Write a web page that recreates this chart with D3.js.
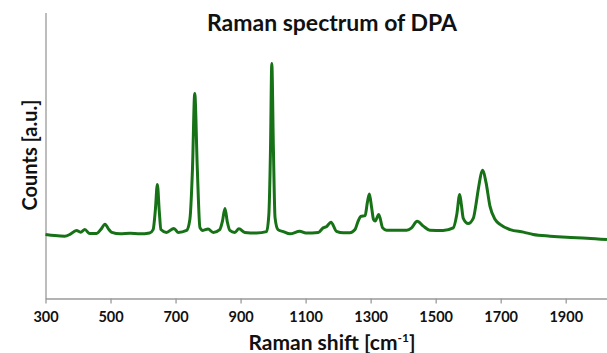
<!DOCTYPE html>
<html>
<head>
<meta charset="utf-8">
<script src="https://cdn.jsdelivr.net/npm/d3@7"></script>
<style>
  body { margin: 0; background: #fff; }
  text { font-family: Lato, "Open Sans", sans-serif; font-weight: bold; }
</style>
</head>
<body>
<div id="svgTarget"></div>
<script>
// raman shift (cm-1) and counts (a.u.)
const shift = [
  300, 329, 359, 375, 395, 408, 421, 436, 457, 470, 483, 495, 504, 530, 560, 590, 620,
  631, 638, 644, 650, 655, 672, 695, 708, 734, 744, 752, 759, 767, 775, 784, 800, 816,
  836, 844, 852, 859, 867, 882, 895, 913, 949, 980, 987, 992, 996, 1001, 1006, 1015,
  1031, 1052, 1082, 1101, 1139, 1154, 1165, 1178, 1195, 1216, 1236, 1252, 1261, 1270,
  1283, 1290, 1296, 1303, 1309, 1314, 1325, 1337, 1349, 1378, 1411, 1426, 1443, 1462,
  1482, 1523, 1554, 1565, 1574, 1579, 1585, 1600, 1616, 1624, 1631, 1645, 1655, 1667,
  1683, 1698, 1729, 1770, 1800, 1852, 1903, 1965, 2027
];
const counts = [
  224, 220, 218, 224, 238, 232, 241, 227, 227, 241, 260, 241, 231, 226, 228, 226, 229,
  241, 311, 399, 304, 241, 231, 245, 231, 238, 276, 451, 717, 451, 248, 238, 243, 231,
  241, 269, 315, 269, 238, 231, 244, 231, 229, 234, 294, 521, 822, 521, 283, 241,
  234, 226, 235, 229, 231, 247, 252, 267, 235, 230, 230, 241, 269, 287,
  290, 336, 365, 318, 276, 271, 294, 247, 239, 239, 239, 247, 270, 253,
  239, 238, 247, 294, 364, 329, 280, 262, 281, 329, 381, 448, 405, 323,
  276, 259, 241, 232, 224, 218, 214, 211, 206
];
const xTicks = [300, 500, 700, 900, 1100, 1300, 1500, 1700, 1900];

const data = shift.map((s, i) => ({ shift: s, count: counts[i] }));

const width = 607, height = 353;
const margin = { top: 12.5, right: 0, bottom: 54.5, left: 45.5 };
const groupWidth = width - margin.left - margin.right;
const groupHeight = height - margin.top - margin.bottom;

// canvas
const svg = d3.select("#svgTarget")
  .append("svg")
    .attr("width", width)
    .attr("height", height);

const g = svg.append("g")
  .attr("transform", `translate(${margin.left}, ${margin.top})`);

// scales
const x = d3.scaleLinear()
  .domain([300, 2027])
  .range([0, groupWidth]);

const y = d3.scaleLinear()
  .domain([0, 1000])
  .range([groupHeight, 0]);

// axes
const xAxis = d3.axisBottom(x)
  .tickValues(xTicks)
  .tickSizeInner(5)
  .tickSizeOuter(0)
  .tickPadding(8)
  .tickFormat(d3.format("d"));

g.append("g")
  .attr("class", "xAxis")
  .attr("transform", `translate(0, ${groupHeight})`)
  .call(xAxis)
  .call(a => a.selectAll("path, line").attr("stroke", "#9a9a9a").attr("stroke-width", 1.3))
  .call(a => a.selectAll("text")
    .attr("font-size", 14.5)
    .attr("font-family", "Lato, sans-serif")
    .attr("font-weight", "bold")
    .attr("fill", "#111"));

const yAxis = d3.axisLeft(y).tickValues([]).tickSizeOuter(0);
g.append("g")
  .attr("class", "yAxis")
  .call(yAxis)
  .call(a => a.selectAll("path").attr("stroke", "#9a9a9a").attr("stroke-width", 1.3));

// spectrum
const line = d3.line()
  .x(d => x(d.shift))
  .y(d => y(d.count))
  .curve(d3.curveMonotoneX);

g.append("path")
  .datum(data)
  .attr("fill", "none")
  .attr("stroke", "#177217")
  .attr("stroke-width", 3)
  .attr("stroke-linejoin", "round")
  .attr("d", line);

// labels
svg.append("text")
  .attr("x", 332)
  .attr("y", 31)
  .attr("font-size", 23)
  .attr("text-anchor", "middle")
  .attr("fill", "#111")
  .text("Raman spectrum of DPA");

const xLabel = svg.append("text")
  .attr("x", 332)
  .attr("y", 350)
  .attr("font-size", 21)
  .attr("text-anchor", "middle")
  .attr("fill", "#111");
xLabel.append("tspan").text("Raman shift [cm");
xLabel.append("tspan").attr("font-size", 12).attr("dy", -8).text("-1");
xLabel.append("tspan").attr("dy", 8).text("]");

svg.append("text")
  .attr("transform", "translate(37, 155) rotate(-90)")
  .attr("font-size", 20)
  .attr("text-anchor", "middle")
  .attr("fill", "#111")
  .text("Counts [a.u.]");
</script>
</body>
</html>
